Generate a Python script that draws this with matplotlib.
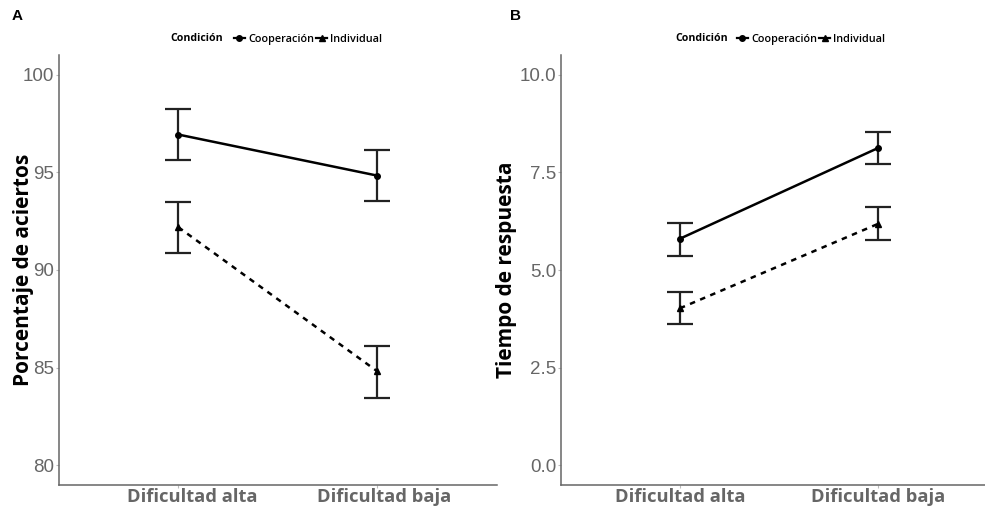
import matplotlib
matplotlib.use("Agg")
import matplotlib.pyplot as plt
import matplotlib.transforms as mtransforms
from matplotlib.lines import Line2D

categories = ["Dificultad alta", "Dificultad baja"]
conditions = ["Cooperación", "Individual"]

acc_mean = {"Cooperación": [96.93, 94.83], "Individual": [92.19, 84.82]}
acc_low = {"Cooperación": [95.62, 93.52], "Individual": [90.86, 83.46]}
acc_high = {"Cooperación": [98.26, 96.16], "Individual": [93.49, 86.10]}

rt_mean = {"Cooperación": [5.80, 8.12], "Individual": [4.02, 6.18]}
rt_low = {"Cooperación": [5.37, 7.70], "Individual": [3.61, 5.76]}
rt_high = {"Cooperación": [6.21, 8.53], "Individual": [4.43, 6.61]}

acc_ticks = [80, 85, 90, 95, 100]
acc_ticklabels = ["80", "85", "90", "95", "100"]
rt_ticks = [0.0, 2.5, 5.0, 7.5, 10.0]
rt_ticklabels = ["0.0", "2.5", "5.0", "7.5", "10.0"]

styles = {
    "Cooperación": dict(ls="-", marker="o", ms=4.0, dashes=None),
    "Individual": dict(ls="--", marker="^", ms=4.0, dashes=(2.2, 2.2)),
}

W, H = 985, 511
fig = plt.figure(figsize=(W / 100, H / 100), dpi=100)


def px_rect(x0, x1, ytop, ybot):
    return [x0 / W, 1 - ybot / H, (x1 - x0) / W, (ybot - ytop) / H]


axA = fig.add_axes(px_rect(59, 496.5, 55, 485))
axB = fig.add_axes(px_rect(561, 985, 55, 485))

GRAY = "#666666"


def draw(ax, mean, low, high, ylim, ticks, ticklabels, ylabel, xlim, label_x,
         label_shift_px):
    xs = list(range(1, len(categories) + 1))
    for cond in conditions:
        st = styles[cond]
        m = mean[cond]
        lo = [m[i] - low[cond][i] for i in range(len(m))]
        hi = [high[cond][i] - m[i] for i in range(len(m))]
        ax.errorbar(xs, m, yerr=[lo, hi], fmt="none", ecolor="#222222",
                    elinewidth=1.6, capsize=9.5, capthick=1.6, zorder=2)
        line, = ax.plot(xs, m, color="black", lw=1.8, ls=st["ls"],
                        marker=st["marker"], ms=st["ms"], zorder=3)
        if st["dashes"]:
            line.set_dashes(st["dashes"])
    ax.set_xlim(*xlim)
    ax.set_ylim(*ylim)
    ax.tick_params(axis="both", length=2, width=0.8, color="#bbbbbb", pad=1.5)
    ax.tick_params(axis="x", pad=0.5)
    ax.set_xticks(xs)
    ax.set_xticklabels(categories, fontfamily="Open Sans", fontweight="bold",
                       fontsize=13.2, color=GRAY)
    for tick, sh in zip(ax.xaxis.get_major_ticks(), label_shift_px):
        if sh:
            off = mtransforms.ScaledTranslation(sh / 100, 0, fig.dpi_scale_trans)
            tick.label1.set_transform(tick.label1.get_transform() + off)
    ax.set_yticks(ticks)
    ax.set_yticklabels(ticklabels, fontfamily="Liberation Sans",
                       fontsize=13.5, color=GRAY)
    for s in ["top", "right"]:
        ax.spines[s].set_visible(False)
    for s in ["left", "bottom"]:
        ax.spines[s].set_color(GRAY)
        ax.spines[s].set_linewidth(1.1)
    ax.set_ylabel(ylabel, fontfamily="Open Sans", fontweight="bold",
                  fontsize=15, color="black")
    ax.yaxis.set_label_coords(label_x, 0.5)


draw(axA, acc_mean, acc_low, acc_high, (79.0, 101.0), acc_ticks, acc_ticklabels,
     "Porcentaje de aciertos", (0.4, 2.6), (34 - 59) / 437.5, (14, 7))
draw(axB, rt_mean, rt_low, rt_high, (-0.5, 10.5), rt_ticks, rt_ticklabels,
     "Tiempo de respuesta", (0.4, 2.54), (517 - 561) / 424, (0, 0))


def add_legend(title_x_px, leg_x_px):
    handles = []
    for cond in conditions:
        st = styles[cond]
        h = Line2D([], [], color="black", lw=1.6, ls="-",
                   marker=st["marker"], ms=4)
        handles.append(h)
    fig.text(title_x_px / W, 1 - 38.5 / H, "Condición", fontfamily="Open Sans",
             fontweight="bold", fontsize=7.6, va="center", ha="left")
    leg = fig.legend(handles, conditions, loc="center left",
                     bbox_to_anchor=(leg_x_px / W, 1 - 39 / H), ncol=2,
                     frameon=False, handlelength=1.0, handletextpad=0.3,
                     columnspacing=0.2, borderpad=0, borderaxespad=0,
                     prop={"family": "Open Sans", "weight": "semibold", "size": 7.8})
    return leg


add_legend(170, 234)
add_legend(675, 737)

fig.text(12 / W, 1 - 16 / H, "A", fontfamily="Liberation Sans", fontweight="bold",
         fontsize=11, va="center", ha="left")
fig.text(510 / W, 1 - 16 / H, "B", fontfamily="Liberation Sans", fontweight="bold",
         fontsize=11, va="center", ha="left")

fig.savefig("out.png", dpi=100, facecolor="white")
